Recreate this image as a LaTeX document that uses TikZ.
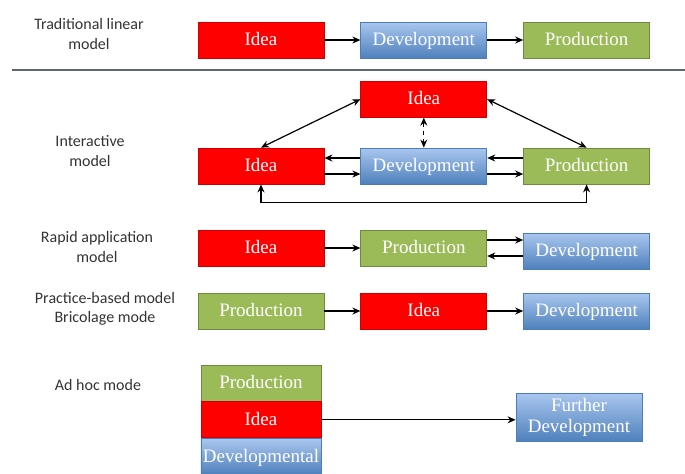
\documentclass[tikz,border=0pt]{standalone}
\usepackage{fontspec}
\setmainfont{Liberation Serif}
\newfontfamily\labelfont{Carlito}
\usetikzlibrary{arrows.meta,positioning}
\definecolor{ideared}{HTML}{FF0000}
\definecolor{prodgreen}{HTML}{9BBB59}
\definecolor{prodedge}{HTML}{71893F}
\definecolor{devtop}{HTML}{A9C6EE}
\definecolor{devbot}{HTML}{4F81BD}
\definecolor{devedge}{HTML}{4A7EBB}
\definecolor{rulecol}{HTML}{5A6878}

\begin{document}
\begin{tikzpicture}[
    x=0.5pt, y=-0.5pt,
    node distance=9pt and 18pt,
    every node/.style={font=\fontsize{9.5}{10.5}\selectfont},
    box/.style={rectangle, minimum width=63pt, minimum height=18pt, inner sep=1pt, text=white, align=center, line width=0.4pt, text height=1.6ex, text depth=0.4ex},
    idea/.style={box, fill=ideared, draw=red!80!black},
    prod/.style={box, fill=prodgreen, draw=prodedge},
    dev/.style={box, top color=devtop, bottom color=devbot, draw=devedge},
    model/.style={align=center, text=black!80, font=\fontsize{8}{9.6}\selectfont\labelfont},
    arrow/.style={-{Stealth[length=4pt,width=3.5pt]}, line width=0.6pt},
    twoway/.style={{Stealth[length=4pt,width=3.5pt]}-{Stealth[length=4pt,width=3.5pt]}, line width=0.6pt},
]
% page frame, pixel units from the top left corner
\useasboundingbox (0,0) rectangle (685,473);

% Traditional linear model
\node[model] (tlabel) at (89,34) {Traditional linear\\model};
\node[idea] (ideaL) at (261,40) {Idea};
\node[dev, right=of ideaL] (devL) {Development};
\node[prod, right=of devL] (prodL) {Production};

% separator
\draw[rulecol, line width=1pt] (12,70) -- (685,70);

% Interactive model
\node[model] (ilabel) at (90,151) {Interactive\\model};
\node[idea] (ideaI) at (261,166) {Idea};
\node[dev, right=of ideaI] (devI) {Development};
\node[prod, right=of devI] (prodI) {Production};
\node[idea, above=15pt of devI] (ideaT) {Idea};

% Rapid application model
\node[model] (rlabel) at (97,247) {Rapid application\\model};
\node[idea] (ideaR) at (261,248) {Idea};
\node[prod, right=of ideaR] (prodR) {Production};
\node[dev, right=of prodR, yshift=-1.5pt] (devR) {Development};

% Practice-based model
\node[model] (plabel) at (105,309) {Practice-based model\\Bricolage mode};
\node[prod] (prodP) at (261,311) {Production};
\node[idea, right=of prodP] (ideaP) {Idea};
\node[dev, right=of ideaP] (devP) {Development};

% Ad hoc mode
\node[model] (alabel) at (98,385) {Ad hoc mode};
\node[prod, minimum width=60pt] (prodA) at (261,383) {Production};
\node[idea, minimum width=60pt, below=0pt of prodA] (ideaA) {Idea};
\node[dev, minimum width=60pt, below=0pt of ideaA] (devA) {Developmental};
\node[dev, minimum height=24pt, text height=, text depth=] (fdev) at (579,417) {Further\\Development};

% Arrows
\draw[arrow] (ideaL) -- (devL);
\draw[arrow] (devL) -- (prodL);
\draw[twoway] (ideaI.north) -- (ideaT.west);
\draw[twoway] (ideaT.east) -- (prodI.north);
\draw[twoway, dash pattern=on 2pt off 2pt] (ideaT) -- (devI);
\draw[arrow] ([yshift=4pt]devI.west) -- ([yshift=4pt]ideaI.east);
\draw[arrow] ([yshift=-4pt]ideaI.east) -- ([yshift=-4pt]devI.west);
\draw[arrow] ([yshift=4pt]prodI.west) -- ([yshift=4pt]devI.east);
\draw[arrow] ([yshift=-4pt]devI.east) -- ([yshift=-4pt]prodI.west);
\draw[twoway] (ideaI.south) -- ++(0,-9pt) -| (prodI.south);
\draw[arrow] (ideaR) -- (prodR);
\draw[arrow] ([yshift=4pt]prodR.east) -- ([yshift=4pt]prodR.east -| devR.west);
\draw[arrow] ([yshift=-4pt]prodR.east -| devR.west) -- ([yshift=-4pt]prodR.east);
\draw[arrow] (prodP) -- (ideaP);
\draw[arrow] (ideaP) -- (devP);
\draw[arrow] (ideaA.east) -- (ideaA.east -| fdev.west);

\end{tikzpicture}
\end{document}
